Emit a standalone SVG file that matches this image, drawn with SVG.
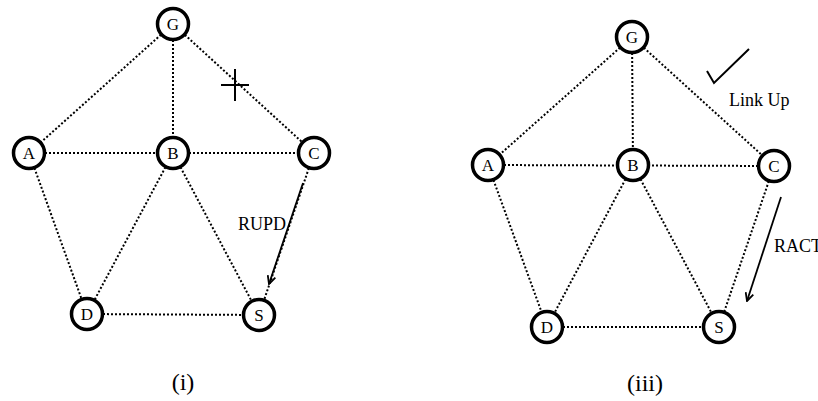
<svg xmlns="http://www.w3.org/2000/svg" width="818" height="401" viewBox="0 0 818 401">
  <style>
    .edge { stroke: #000; stroke-width: 2; stroke-dasharray: 2 2; fill: none; }
    .node circle { fill: #fff; stroke: #000; stroke-width: 3.5; }
    .node text { font-family: "Liberation Serif", "Times New Roman", serif; font-size: 17px; text-anchor: middle; }
    .lbl { font-family: "Liberation Serif", "Times New Roman", serif; font-size: 18px; }
    .cap { font-family: "Liberation Serif", "Times New Roman", serif; font-size: 24px; text-anchor: middle; }
    .mark { stroke: #000; stroke-width: 2; fill: none; }
    .msg { stroke: #000; stroke-width: 1.8; fill: none; marker-end: url(#open); }
  </style>
  <defs>
    <marker id="open" viewBox="0 0 10 10" refX="9" refY="5" markerWidth="10" markerHeight="10" markerUnits="userSpaceOnUse" orient="auto">
      <polyline points="1,1 9,5 1,9" fill="none" stroke="#000" stroke-width="1.8"/>
    </marker>
  </defs>

  <!-- (i) left topology -->
  <g id="connectors-i">
    <line class="edge" x1="173" y1="24" x2="29" y2="153"/>
    <line class="edge" x1="173" y1="24" x2="173" y2="153"/>
    <line class="edge" x1="173" y1="24" x2="314" y2="153"/>
    <line class="edge" x1="29" y1="153" x2="314" y2="153"/>
    <line class="edge" x1="29" y1="153" x2="87" y2="314"/>
    <line class="edge" x1="173" y1="153" x2="87" y2="314"/>
    <line class="edge" x1="173" y1="153" x2="259" y2="315"/>
    <line class="edge" x1="314" y1="153" x2="259" y2="315"/>
    <line class="edge" x1="87" y1="314" x2="259" y2="315"/>
    <line class="msg" x1="303" y1="183" x2="269" y2="284"/>
    <path class="mark" d="M221 85 H249 M235 69 V101"/>
  </g>
  <g id="node-G-i" class="node"><circle cx="173" cy="24" r="15.5"/><text x="173" y="30">G</text></g>
  <g id="node-A-i" class="node"><circle cx="29" cy="153" r="15.5"/><text x="29" y="159">A</text></g>
  <g id="node-B-i" class="node"><circle cx="173" cy="153" r="15.5"/><text x="173" y="159">B</text></g>
  <g id="node-C-i" class="node"><circle cx="314" cy="153" r="15.5"/><text x="314" y="159">C</text></g>
  <g id="node-D-i" class="node"><circle cx="87" cy="314" r="15.5"/><text x="87" y="320">D</text></g>
  <g id="node-S-i" class="node"><circle cx="259" cy="315" r="15.5"/><text x="259" y="321">S</text></g>
  <text class="lbl" x="238" y="230">RUPD</text>
  <text class="cap" x="183" y="390">(i)</text>

  <!-- (iii) right topology -->
  <g id="connectors-iii">
    <line class="edge" x1="632" y1="37" x2="488" y2="165"/>
    <line class="edge" x1="632" y1="37" x2="633" y2="165"/>
    <line class="edge" x1="632" y1="37" x2="774" y2="166"/>
    <line class="edge" x1="488" y1="165" x2="774" y2="166"/>
    <line class="edge" x1="488" y1="165" x2="547" y2="327"/>
    <line class="edge" x1="633" y1="165" x2="547" y2="327"/>
    <line class="edge" x1="633" y1="165" x2="719" y2="327"/>
    <line class="edge" x1="774" y1="166" x2="719" y2="327"/>
    <line class="edge" x1="547" y1="327" x2="719" y2="327"/>
    <line class="msg" x1="781" y1="197" x2="747" y2="301"/>
    <polyline class="mark" points="707,71 714,83 749,49"/>
  </g>
  <g id="node-G-iii" class="node"><circle cx="632" cy="37" r="15.5"/><text x="632" y="43">G</text></g>
  <g id="node-A-iii" class="node"><circle cx="488" cy="165" r="15.5"/><text x="488" y="171">A</text></g>
  <g id="node-B-iii" class="node"><circle cx="633" cy="165" r="15.5"/><text x="633" y="171">B</text></g>
  <g id="node-C-iii" class="node"><circle cx="774" cy="166" r="15.5"/><text x="774" y="172">C</text></g>
  <g id="node-D-iii" class="node"><circle cx="547" cy="327" r="15.5"/><text x="547" y="333">D</text></g>
  <g id="node-S-iii" class="node"><circle cx="719" cy="327" r="15.5"/><text x="719" y="333">S</text></g>
  <text class="lbl" x="729" y="106">Link Up</text>
  <text class="lbl" x="774" y="252">RACT</text>
  <text class="cap" x="645" y="391">(iii)</text>
</svg>
